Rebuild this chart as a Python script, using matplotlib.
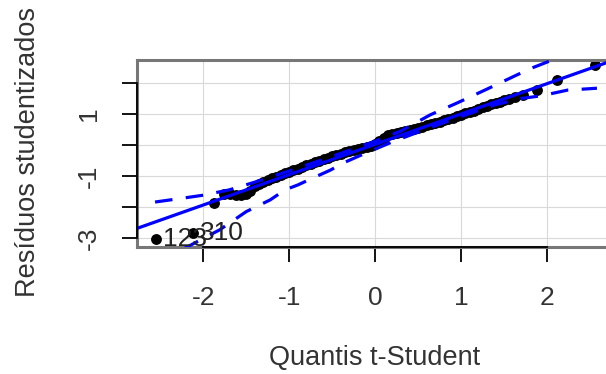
import matplotlib
matplotlib.use('Agg')
import matplotlib.pyplot as plt

plt.rcParams['font.family'] = ['Liberation Sans', 'DejaVu Sans']

# quantis teoricos t-Student x residuos studentizados ordenados
quantis = [-2.55, -2.12, -1.88, -1.76, -1.69, -1.62, -1.56, -1.50, -1.45, -1.40,
           -1.35, -1.30, -1.25, -1.20, -1.15, -1.10, -1.05, -1.00, -0.95, -0.90,
           -0.85, -0.80, -0.75, -0.70, -0.65, -0.60, -0.55, -0.50, -0.45, -0.40,
           -0.35, -0.30, -0.25, -0.20, -0.15, -0.10, -0.05, 0.00, 0.05, 0.10,
           0.15, 0.20, 0.25, 0.30, 0.35, 0.40, 0.45, 0.50, 0.55, 0.60,
           0.65, 0.70, 0.75, 0.80, 0.85, 0.90, 0.95, 1.00, 1.05, 1.10,
           1.15, 1.20, 1.25, 1.30, 1.35, 1.40, 1.45, 1.50, 1.56, 1.63,
           1.72, 1.88, 2.12, 2.56]
residuos = [-3.03, -2.83, -1.87, -1.58, -1.57, -1.60, -1.60, -1.58, -1.50, -1.33,
            -1.26, -1.20, -1.14, -1.08, -1.02, -0.96, -0.91, -0.86, -0.81, -0.76,
            -0.71, -0.66, -0.61, -0.56, -0.51, -0.46, -0.41, -0.37, -0.32, -0.28,
            -0.24, -0.20, -0.16, -0.13, -0.10, -0.06, -0.02, 0.04, 0.14, 0.24,
            0.31, 0.35, 0.39, 0.42, 0.45, 0.48, 0.51, 0.55, 0.59, 0.63,
            0.67, 0.71, 0.75, 0.79, 0.84, 0.88, 0.93, 0.97, 1.02, 1.06,
            1.11, 1.16, 1.21, 1.26, 1.31, 1.35, 1.40, 1.44, 1.49, 1.54,
            1.60, 1.77, 2.10, 2.58]

# reta de referencia
reta_x = [-2.77, 2.79]
reta_y = [-2.69, 2.75]

# envelope simulado
env_sup_x = [-2.56, -2.20, -2.00, -1.70, -1.40, -1.00, -0.50, 0.00, 0.30, 0.64,
             0.95, 1.30, 1.65, 1.84, 2.58]
env_sup_y = [-1.84, -1.70, -1.62, -1.45, -1.20, -0.84, -0.37, 0.12, 0.45, 0.97,
             1.35, 1.80, 2.26, 2.50, 3.30]
env_inf_x = [-2.56, -2.20, -1.97, -1.81, -1.50, -1.22, -1.05, -0.90, -0.72, -0.52,
             -0.37, -0.15, 0.20, 0.60, 1.00, 1.40, 1.70, 1.92, 2.09, 2.24, 2.47, 2.58]
env_inf_y = [-3.83, -3.31, -2.97, -2.74, -2.15, -1.77, -1.45, -1.29, -1.06, -0.81,
             -0.58, -0.31, 0.10, 0.52, 0.92, 1.30, 1.50, 1.58, 1.68, 1.77, 1.81, 1.83]

rotulos = ['123', '310']

xticks = [-2, -1, 0, 1, 2]
yticks = [-3, -2, -1, 0, 1, 2]
ytick_labels = ['-3', '', '-1', '', '1', '']

fig = plt.figure(figsize=(6.06, 3.74), dpi=100)
ax = fig.add_axes([137/606, 127/374, 478/606, 187/374])
ax.set_xlim(-2.77, 2.79)
ax.set_ylim(-3.29, 2.74)

for t in xticks:
    ax.axvline(t, color='#d9d9d9', lw=0.8, zorder=0)
for t in yticks:
    ax.axhline(t, color='#d9d9d9', lw=0.8, zorder=0)

ax.plot(quantis, residuos, 'o', color='black', ms=6.8, zorder=2)
ax.plot(reta_x, reta_y, color='#0000ff', lw=2.3, zorder=3)
ax.plot(env_sup_x, env_sup_y, color='#0000ff', lw=2.3, ls=(0, (5.5, 4.2)), zorder=3)
ax.plot(env_inf_x, env_inf_y, color='#0000ff', lw=2.3, ls=(0, (5.5, 4.2)), zorder=3)

for i, r in enumerate(rotulos):
    ax.annotate(r, (quantis[i], residuos[i]), xytext=(5, 0), textcoords='offset points',
                ha='left', va='center', fontsize=19, color='#222222', clip_on=True,
                annotation_clip=True, zorder=4)

for s in ax.spines.values():
    s.set_color('#777777')
    s.set_linewidth(2.2)

# linhas dos eixos so entre o primeiro e o ultimo tick
ax.plot([xticks[0], xticks[-1]], [-3.29, -3.29], color='black', lw=1.3, clip_on=False, zorder=5)
ax.plot([-2.77, -2.77], [yticks[0], yticks[-1]], color='black', lw=1.3, clip_on=False, zorder=5)

ax.set_xticks(xticks)
ax.set_xticklabels([str(t) for t in xticks])
ax.set_yticks(yticks)
ax.set_yticklabels(ytick_labels, rotation=90, va='center')
ax.tick_params(axis='both', length=10.8, width=1.3, color='black', labelsize=19,
               labelcolor='#333333')
ax.tick_params(axis='x', pad=17)
ax.tick_params(axis='y', pad=15)

fig.text(375/606, 1 - 358/374, 'Quantis t-Student', ha='center', va='center',
         fontsize=19.5, color='#333333')
fig.text(28/606, 1 - 152/374, 'Resíduos studentizados', ha='center', va='center',
         rotation=90, fontsize=19.5, color='#333333')

fig.savefig('out.png', dpi=100)
plt.close(fig)
